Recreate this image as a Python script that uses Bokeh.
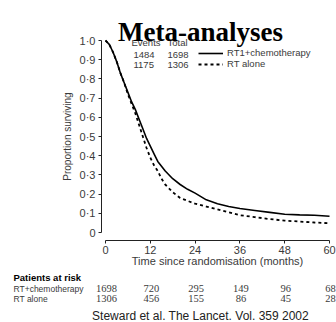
from bokeh.plotting import figure
from bokeh.models import (Range1d, Label, LabelSet, ColumnDataSource, Legend, LegendItem,
                          FixedTicker, CustomJSTickFormatter)
from bokeh.embed import file_html
from bokeh.resources import INLINE

# ---- data ----
months = [0, 1, 2, 3, 4, 5, 6, 7, 8, 9, 10, 11, 12, 13, 14, 15, 16, 18, 20, 22, 24,
          27, 30, 33, 36, 40, 44, 48, 52, 56, 60]
surv_chemo = [1.0, 0.98, 0.94, 0.89, 0.83, 0.78, 0.73, 0.68, 0.64, 0.59, 0.54, 0.49, 0.45,
              0.41, 0.37, 0.345, 0.32, 0.28, 0.25, 0.225, 0.205, 0.17, 0.15, 0.135, 0.125,
              0.115, 0.105, 0.095, 0.092, 0.09, 0.085]
surv_rt = [1.0, 0.98, 0.94, 0.89, 0.83, 0.78, 0.72, 0.67, 0.62, 0.56, 0.50, 0.44, 0.39,
           0.35, 0.32, 0.28, 0.25, 0.21, 0.18, 0.165, 0.15, 0.135, 0.12, 0.105, 0.09,
           0.08, 0.07, 0.062, 0.057, 0.052, 0.048]

series_names = ["RT1+chemotherapy", "RT alone"]
events = ["1484", "1175"]
totals = ["1698", "1306"]

risk_months = [0, 12, 24, 36, 48, 60]
risk_chemo = ["1698", "720", "295", "149", "96", "68"]
risk_rt = ["1306", "456", "155", "86", "45", "28"]
risk_rows = ["RT+chemotherapy", "RT alone"]

x_ticks = [0, 12, 24, 36, 48, 60]
y_ticks = [0, 0.1, 0.2, 0.3, 0.4, 0.5, 0.6, 0.7, 0.8, 0.9, 1.0]

FONT = "Liberation Sans"
GREY = "#3a3a3a"
W, H = 336, 322

# pixel -> data helpers for placing text (layout only)
PX0, PXM = 105.0, 224.0 / 60.0      # month 0 at x=105px, 3.733 px / month
PY0, PYU = 232.0, 192.0             # proportion 0 at y=232px, 192 px / unit
def X(px): return (px - PX0) / PXM
def Y(py): return (PY0 - py) / PYU

p = figure(width=W, height=H, output_backend="svg", toolbar_location=None,
           x_range=Range1d(X(0), X(W)), y_range=Range1d(Y(H), Y(0)),
           min_border_left=0, min_border_right=0, min_border_top=0, min_border_bottom=0)
p.outline_line_color = None
p.grid.visible = False

r1 = p.line(months, surv_chemo, line_color="black", line_width=1.6)
r2 = p.line(months, surv_rt, line_color="black", line_width=1.8, line_dash="3 3")

# axes (offset from the curves, as in the reference)
p.xaxis.fixed_location = Y(240)
p.yaxis.fixed_location = X(101)
p.xaxis.bounds = (0, 60)
p.yaxis.bounds = (0, 1)
p.xaxis.ticker = FixedTicker(ticks=x_ticks)
p.yaxis.ticker = FixedTicker(ticks=y_ticks)
p.yaxis.formatter = CustomJSTickFormatter(
    code="return tick == 0 ? '0' : tick.toFixed(1).replace('.', '\u00b7');")
for ax in (p.xaxis, p.yaxis):
    ax.minor_tick_line_color = None
    ax.major_tick_in = 0
    ax.major_tick_out = 3
    ax.axis_line_color = "#222222"
    ax.major_tick_line_color = "#222222"
    ax.major_label_text_font = FONT
    ax.major_label_text_font_size = "11px"
    ax.major_label_text_color = GREY
    ax.axis_label_text_font = FONT
    ax.axis_label_text_font_style = "normal"
    ax.axis_label_text_color = GREY
p.xaxis.major_label_standoff = 2
p.yaxis.major_label_standoff = 3
p.xaxis.axis_label = "Time since randomisation (months)"
p.xaxis.axis_label_text_font_size = "11px"
p.xaxis.axis_label_standoff = -2
p.yaxis.axis_label = "Proportion surviving"
p.yaxis.axis_label_text_font_size = "10px"
p.yaxis.axis_label_standoff = 4

# legend
legend = Legend(items=[LegendItem(label=series_names[0], renderers=[r1]),
                       LegendItem(label=series_names[1], renderers=[r2])],
                location=(198, H - 69), glyph_width=25, glyph_height=10, label_height=10,
                spacing=0, padding=0, margin=0, label_standoff=4,
                border_line_color=None, background_fill_alpha=0,
                label_text_font=FONT, label_text_font_size="9.5px", label_text_color=GREY)
p.add_layout(legend)

def lab(px, py, text, size="9.5px", align="left", style="normal", font=FONT, color=GREY,
        baseline="middle"):
    p.add_layout(Label(x=X(px), y=Y(py), text=text, text_font=font, text_font_size=size,
                       text_align=align, text_baseline=baseline, text_font_style=style,
                       text_color=color))

lab(131, 42, "Events")
lab(167, 42, "Total")
for i, py in enumerate([54, 64]):
    lab(133, py, events[i])
    lab(167, py, totals[i])

# title
lab(200, 31, "Meta-analyses", size="27px", align="center", style="bold",
    font="Liberation Serif", color="black", baseline="alphabetic")

# patients at risk table
lab(13, 277, "Patients at risk", size="9.5px", style="bold", color="black")
for name, py in zip(risk_rows, [288, 298]):
    lab(13, py, name, size="8.5px")
for vals, py in ((risk_chemo, 288), (risk_rt, 298)):
    src = ColumnDataSource(dict(x=risk_months, y=[Y(py)] * len(risk_months), t=vals))
    p.add_layout(LabelSet(x="x", y="y", text="t", source=src, text_font=FONT,
                          text_font_size="10.5px", text_align="center", x_offset=1,
                          text_baseline="middle", text_color=GREY))

# citation
lab(200, 315, "Steward et al. The Lancet. Vol. 359 2002", size="12px", align="center",
    color="#222222")

open("out.html", "w").write(file_html(p, INLINE))
